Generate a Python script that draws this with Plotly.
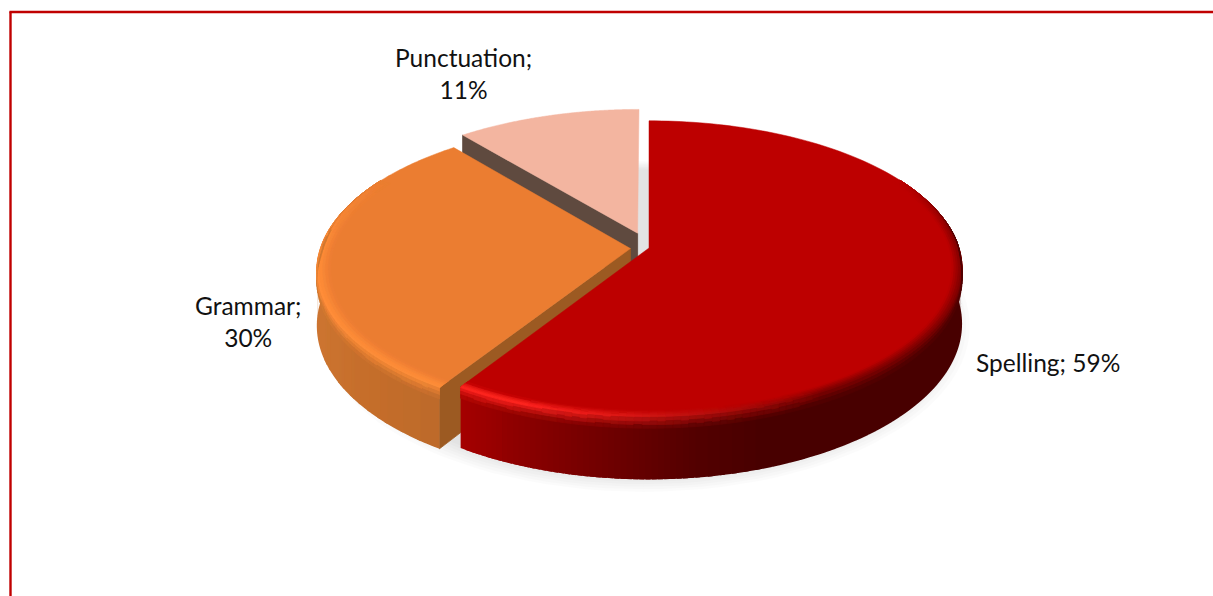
import math
import plotly.graph_objects as go

# Share of errors by type, clockwise from twelve o'clock
categories = ["Spelling", "Grammar", "Punctuation"]
shares = [59, 30, 11]
label_breaks = ["; ", ";<br>", ";<br>"]

explode = [0.0, 0.06, 0.11]
top_colors = ["#bd0000", "#eb7d31", "#f3b5a0"]
radial_colors = [None, "#9c5a22", "#5f4a3f"]
label_xy = [(1048, 362), (248, 321), (463, 73)]

# Perspective model of the disc, in page pixels
X0, Y0, R, RY, K, DEPTH = 649, 248, 310, 145, 0.14, 54
BEVEL_PX = 10
WALL_FROM = 88
RIM_FROM = 60


def project(u, v, dz=0.0):
    near = -v
    w = 1 - K * near
    return X0 + R * u / w, Y0 + RY * near / w + dz / w


def rgb(h):
    return tuple(int(h[i:i + 2], 16) for i in (1, 3, 5))


def mix(a, b, t):
    t = max(0.0, min(1.0, t))
    return tuple(a[i] + (b[i] - a[i]) * t for i in range(3))


def quant(c, step=2):
    return "#%02x%02x%02x" % tuple(min(255, int(round(x / step) * step)) for x in c)


def ring(cu, cv, r, th, dz=0.0):
    a = math.radians(th)
    return project(cu + r * math.sin(a), cv + r * math.cos(a), dz)


def steps(a, b, n):
    return [a + (b - a) * i / n for i in range(n + 1)]


fig = go.Figure()


def add_poly(xs, ys, color, line=0.8):
    fig.add_trace(go.Scatter(
        x=xs, y=ys, mode="lines", fill="toself", fillcolor=color,
        line=dict(color=color, width=line, simplify=False),
        hoverinfo="skip", showlegend=False,
    ))


class Batch:
    """Collects small quads by colour so each colour needs one trace."""

    def __init__(self):
        self.groups = {}

    def quad(self, pts, color):
        g = self.groups.setdefault(color, ([], []))
        for p in pts + [pts[0]]:
            g[0].append(p[0])
            g[1].append(p[1])
        g[0].append(None)
        g[1].append(None)

    def flush(self, line=0.8):
        for color, (xs, ys) in self.groups.items():
            add_poly(xs, ys, color, line)
        self.groups = {}


# Angular span and centre offset of each slice
total = sum(shares)
spans = []
start = 0.0
for s in shares:
    spans.append((start, start + 360.0 * s / total))
    start += 360.0 * s / total
centres = []
for (a0, a1), e in zip(spans, explode):
    mid = math.radians((a0 + a1) / 2)
    centres.append((e * math.sin(mid), e * math.cos(mid)))

# Soft floor shadow under the pie
for i in range(7):
    r = 1.06 - i * 0.012
    pts = [project(-0.015 + 0.98 * r * math.sin(math.radians(t)), r * math.cos(math.radians(t)), DEPTH)
           for t in steps(0, 360, 120)]
    fig.add_trace(go.Scatter(
        x=[p[0] for p in pts], y=[p[1] for p in pts], mode="lines", fill="toself",
        fillcolor="rgba(0,0,0,0.017)", line=dict(width=0), hoverinfo="skip", showlegend=False,
    ))


def wall_color(idx, x):
    if idx == 0:
        stops = [(456, "#a80000"), (520, "#8c0000"), (600, "#720000"), (690, "#540000"), (760, "#480000")]
    else:
        stops = [(318, "#cc7530"), (360, "#c66e2b"), (440, "#bd6a2a")]
    stops = [(a, rgb(b)) for a, b in stops]
    if x <= stops[0][0]:
        return stops[0][1]
    for (a, ca), (b, cb) in zip(stops, stops[1:]):
        if x <= b:
            return mix(ca, cb, (x - a) / (b - a))
    return stops[-1][1]


def highlight(idx, th):
    if idx == 0:
        return rgb("#ff2420"), max(0.0, min(1.0, (th - 150) / 50))
    if idx == 1:
        return rgb("#ff8d38"), 1.0
    return rgb("#f3b5a0"), 0.0


def draw_slice(idx):
    a0, a1 = spans[idx]
    cu, cv = centres[idx]
    top = rgb(top_colors[idx])

    # Radial cut face towards the viewer
    if radial_colors[idx]:
        rim = ring(cu, cv, 1, a0)
        rim_low = ring(cu, cv, 1, a0, DEPTH)
        apex = ring(cu, cv, 0, a0)
        apex_low = ring(cu, cv, 0, a0, DEPTH)
        add_poly([apex[0], rim[0], rim_low[0], apex_low[0], apex[0]],
                 [apex[1], rim[1], rim_low[1], apex_low[1], apex[1]], radial_colors[idx])

    # Outer wall, only where it faces the viewer; strips overlap to hide seams
    if idx < 2:
        w0 = max(a0, WALL_FROM)
        w1 = min(a1, 285)
        batch = Batch()
        ths = steps(w0, w1, int(w1 - w0) + 1)
        if idx == 0:
            ths = ths[::-1]
        for t0, t1 in zip(ths, ths[1:]):
            over = 0.8 if t1 > t0 else -0.8
            end = max(w0, min(w1, t1 + over))
            p0, p1 = ring(cu, cv, 1, t0), ring(cu, cv, 1, end)
            q0, q1 = ring(cu, cv, 1, t0, DEPTH), ring(cu, cv, 1, end, DEPTH)
            mid_x = (ring(cu, cv, 1, t0)[0] + ring(cu, cv, 1, t1)[0]) / 2
            batch.quad([p0, p1, q1, q0], quant(wall_color(idx, mid_x)))
        batch.flush(line=0)

    # Flat top face of the wedge
    arc = [ring(cu, cv, 1, t) for t in steps(a0, a1, 160)]
    apex = ring(cu, cv, 0, 0)
    pts = [apex] + arc + [apex]
    add_poly([p[0] for p in pts], [p[1] for p in pts], top_colors[idx], line=0.5)

    # Rounded rim between top face and wall
    if idx < 2:
        w0 = max(a0, RIM_FROM)
        w1 = min(a1, 300)
        ths = steps(w0, w1, int((w1 - w0) / 1.25) + 1)
        nb = 8
        inner = 0.968 if idx == 0 else 0.957
        batch = Batch()

        def bevel_point(th, s):
            if s < 0.6:
                return ring(cu, cv, inner + (1 - inner) * s / 0.6, th)
            drop = BEVEL_PX * (s - 0.6) / 0.4
            # the drop shrinks to nothing where the rim turns away from the viewer
            scale = min((th - WALL_FROM) / 8, (285 - th) / 15)
            return ring(cu, cv, 1, th, drop * max(0.0, min(1.0, scale)))

        for t0, t1 in zip(ths, ths[1:]):
            tm = (t0 + t1) / 2
            px = ring(cu, cv, 1, tm)[0]
            wall = wall_color(idx, px)
            hi_col, h = highlight(idx, tm)
            rise = max(0.0, min(1.0, (tm - RIM_FROM) / 25))
            settle = max(0.0, min(1.0, (300 - tm) / 25))
            for j in range(nb):
                s0, s1 = j / nb, (j + 1) / nb
                sm = (s0 + s1) / 2
                peak = mix(mix(top, wall, 0.5), hi_col, h)
                col = mix(top, peak, sm / 0.55) if sm < 0.55 else mix(peak, wall, (sm - 0.55) / 0.45)
                col = mix(top, col, rise * settle)
                batch.quad([bevel_point(t0, s0), bevel_point(t1, s0),
                            bevel_point(t1, s1), bevel_point(t0, s1)], quant(col, 3))
        batch.flush()


# Paint back to front
for idx in (2, 1, 0):
    draw_slice(idx)

# Data labels
for name, share, brk, (lx, ly) in zip(categories, shares, label_breaks, label_xy):
    fig.add_annotation(
        x=lx, y=ly, text=f"{name}{brk}{share}%", showarrow=False,
        xanchor="center", yanchor="middle", align="center",
        font=dict(family="Lato", size=24.5, color="#111111"),
    )

# Chart frame, running off the right and bottom of the page
frame = dict(type="line", line=dict(color="#c00000", width=2.4))
fig.add_shape(x0=10.5, x1=10.5, y0=11.5, y1=596, **frame)
fig.add_shape(x0=9.5, x1=1213, y0=12, y1=12, **frame)

fig.update_layout(
    width=1213, height=596, margin=dict(l=0, r=0, t=0, b=0),
    paper_bgcolor="white", plot_bgcolor="white", showlegend=False,
    xaxis=dict(range=[0, 1213], visible=False, fixedrange=True),
    yaxis=dict(range=[596, 0], visible=False, fixedrange=True),
)
fig.write_html("out.html")
